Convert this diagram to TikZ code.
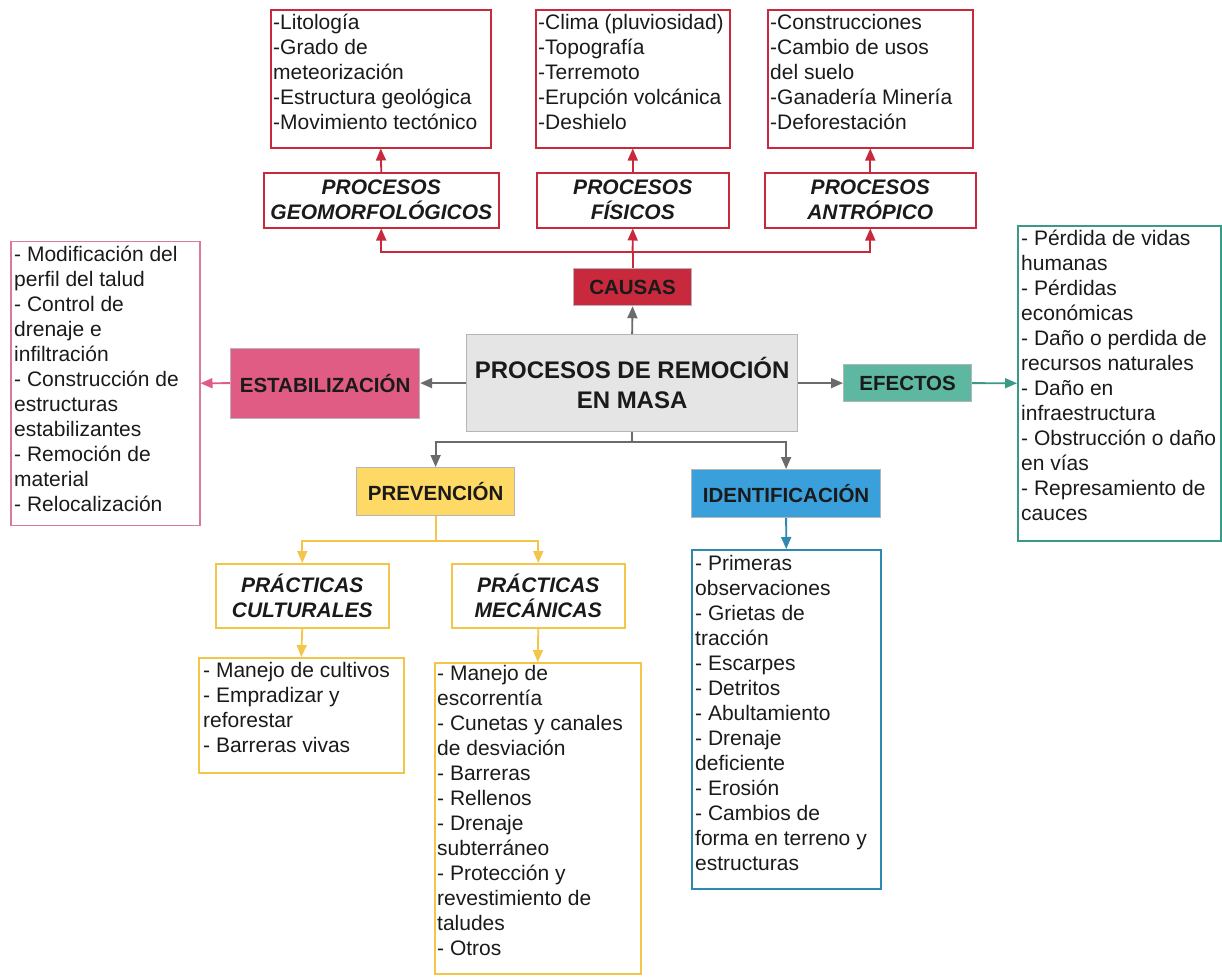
\documentclass[tikz,border=0pt]{standalone}
\usepackage{fontspec}
\setmainfont{Liberation Sans}
\usetikzlibrary{arrows.meta,calc}
\definecolor{cred}{HTML}{C8293C}
\definecolor{cpink}{HTML}{E05C85}
\definecolor{cpinkb}{HTML}{D9799B}
\definecolor{cgreen}{HTML}{5EB7A0}
\definecolor{cteal}{HTML}{3A9987}
\definecolor{cblue}{HTML}{3AA0DC}
\definecolor{cblueb}{HTML}{2E88B0}
\definecolor{cyel}{HTML}{FFD966}
\definecolor{cyelb}{HTML}{F3C548}
\definecolor{cgray}{HTML}{E5E5E5}
\definecolor{cgrayb}{HTML}{B5B5B5}
\definecolor{carrow}{HTML}{6B6B6B}
\definecolor{ctext}{HTML}{1A1A1A}
\tikzset{
  box/.style={draw, line width=1.5pt, inner sep=0pt, anchor=north west},
  lst/.style={anchor=north west, inner sep=0pt, align=left, text=ctext,
    font=\fontsize{21}{25}\selectfont},
  lab/.style={box, align=center, text=ctext, font=\fontsize{20.5}{25}\selectfont\bfseries},
  labi/.style={box, align=center, text=ctext, font=\fontsize{21}{25}\selectfont\bfseries\itshape},
  fbox/.style={lab, draw=cgrayb, line width=1.2pt},
  conn/.style={line width=1.8pt},
  arr/.style={conn, -{Triangle[length=12pt,width=10pt]}},
}
\begin{document}
\begin{tikzpicture}[x=1pt,y=-1pt]
\useasboundingbox (0,0) rectangle (1222,977);
% ---------- top list boxes
\node[box, draw=cred, minimum width=220pt, minimum height=138pt] (g1) at (270,9) {};
\node[lst] (g1t) at ($(g1.north west)+(3,2.5)$) {\strut-Litología\\-Grado de\\meteorización\\-Estructura geológica\\-Movimiento tectónico};
\node[box, draw=cred, minimum width=194pt, minimum height=138pt] (g2) at (535,9) {};
\node[lst] (g2t) at ($(g2.north west)+(3,2.5)$) {\strut-Clima (pluviosidad)\\-Topografía\\-Terremoto\\-Erupción volcánica\\-Deshielo};
\node[box, draw=cred, minimum width=205pt, minimum height=138pt] (g3) at (767,9) {};
\node[lst] (g3t) at ($(g3.north west)+(3,2.5)$) {\strut-Construcciones\\-Cambio de usos\\del suelo\\-Ganadería Minería\\-Deforestación};
% ---------- process boxes
\node[labi, draw=cred, minimum width=235pt, minimum height=55pt] (pg) at (263,172) {PROCESOS\\GEOMORFOLÓGICOS};
\node[labi, draw=cred, minimum width=192pt, minimum height=55pt] (pf) at (536,172) {PROCESOS\\FÍSICOS};
\node[labi, draw=cred, minimum width=211pt, minimum height=55pt] (pa) at (764,172) {PROCESOS\\ANTRÓPICO};
% ---------- main boxes
\node[fbox, fill=cred, minimum width=118pt, minimum height=37pt] (causas) at (573,268) {CAUSAS};
\node[box, draw=cgrayb, line width=1.2pt, fill=cgray, align=center, text=ctext,
  font=\fontsize{24}{30}\selectfont\bfseries, minimum width=331pt, minimum height=97pt] (center) at (466,334) {PROCESOS DE REMOCIÓN\\EN MASA};
\node[fbox, fill=cpink, minimum width=189pt, minimum height=70pt] (estab) at (230,347.5) {ESTABILIZACIÓN};
\node[fbox, fill=cgreen, minimum width=128pt, minimum height=37pt] (efectos) at (843,364) {EFECTOS};
\node[fbox, fill=cyel, minimum width=158pt, minimum height=48pt] (prev) at (356,467) {PREVENCIÓN};
\node[fbox, fill=cblue, minimum width=189pt, minimum height=48pt] (ident) at (691,469) {IDENTIFICACIÓN};
% ---------- side lists
\node[box, draw=cpinkb, minimum width=189pt, minimum height=284pt] (ll) at (10,240.5) {};
\node[lst] (llt) at ($(ll.north west)+(4,3)$) {\strut- Modificación del\\perfil del talud\\- Control de\\drenaje e\\infiltración\\- Construcción de\\estructuras\\estabilizantes\\- Remoción de\\material\\- Relocalización};
\node[box, draw=cteal, minimum width=203pt, minimum height=315pt] (rl) at (1017,225) {};
\node[lst] (rlt) at ($(rl.north west)+(4,2.5)$) {\strut- Pérdida de vidas\\humanas\\- Pérdidas\\económicas\\- Daño o perdida de\\recursos naturales\\- Daño en\\infraestructura\\- Obstrucción o daño\\en vías\\- Represamiento de\\cauces};
% ---------- prevention
\node[labi, draw=cyelb, minimum width=173pt, minimum height=64pt] (pc) at (215,563) {PRÁCTICAS\\CULTURALES};
\node[labi, draw=cyelb, minimum width=173pt, minimum height=64pt] (pm) at (451,563) {PRÁCTICAS\\MECÁNICAS};
\node[box, draw=cyelb, minimum width=205pt, minimum height=115pt] (cl) at (198,657) {};
\node[lst] (clt) at ($(cl.north west)+(5,2.5)$) {\strut- Manejo de cultivos\\- Empradizar y\\reforestar\\- Barreras vivas};
\node[box, draw=cyelb, minimum width=206pt, minimum height=311pt] (ml) at (434,662) {};
\node[lst] (mlt) at ($(ml.north west)+(3,1)$) {\strut- Manejo de\\escorrentía\\- Cunetas y canales\\de desviación\\- Barreras\\- Rellenos\\- Drenaje\\subterráneo\\- Protección y\\revestimiento de\\taludes\\- Otros};
% ---------- identification
\node[box, draw=cblueb, minimum width=189pt, minimum height=339pt] (il) at (691,549) {};
\node[lst] (ilt) at ($(il.north west)+(4,3.5)$) {\strut- Primeras\\observaciones\\- Grietas de\\tracción\\- Escarpes\\- Detritos\\- Abultamiento\\- Drenaje\\deficiente\\- Erosión\\- Cambios de\\forma en terreno y\\estructuras};
% ---------- connectors
\coordinate (cj) at ($(causas.north)+(0,-16)$);
\coordinate (bj) at ($(center.south)+(0,10)$);
\coordinate (yj) at ($(prev.south)+(0,25)$);
\draw[conn, cred] (causas.north) -- (cj);
\draw[arr, cred] (cj) -| (pg.south);
\draw[arr, cred] (cj) -- (pf.south);
\draw[arr, cred] (cj) -| (pa.south);
\draw[arr, cred] (pg.north) -- (g1.south);
\draw[arr, cred] (pf.north) -- (g2.south);
\draw[arr, cred] (pa.north) -- (g3.south);
\draw[arr, carrow] (center.north) -- (causas.south);
\draw[arr, carrow] (center.west) -- (estab.east);
\draw[arr, carrow] (center.east) -- (efectos.west);
\draw[conn, carrow] (center.south) -- (bj);
\draw[arr, carrow] (bj) -| (prev.north);
\draw[arr, carrow] (bj) -| (ident.north);
\draw[arr, cpink] (estab.west) -- (ll.east);
\draw[arr, cteal] (efectos.east) -- (rl.west);
\draw[arr, cblueb] (ident.south) -- (il.north);
\draw[conn, cyelb] (prev.south) -- (yj);
\draw[arr, cyelb] (yj) -| (pc.north);
\draw[arr, cyelb] (yj) -| (pm.north);
\draw[arr, cyelb] (pc.south) -- (cl.north);
\draw[arr, cyelb] (pm.south) -- (ml.north);
\end{tikzpicture}
\end{document}
